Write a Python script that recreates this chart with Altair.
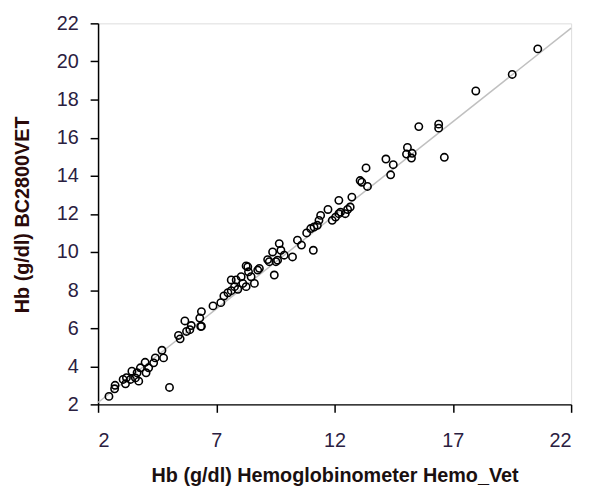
import altair as alt
import pandas as pd

# Hemoglobinometer (x) vs BC2800VET (y), g/dl
hemo_vet = [2.46, 2.70, 2.72, 3.06, 3.16, 3.20, 3.43, 3.37, 3.58, 3.72, 3.65, 3.79, 3.99, 4.03,
            4.14, 4.35, 4.42, 4.70, 4.77, 5.02, 5.40, 5.47, 5.67, 5.74, 5.88, 5.94, 6.34, 6.30,
            6.37, 6.37, 6.86, 7.19, 7.32, 7.49, 7.63, 7.77, 7.91, 7.63, 7.84, 8.05, 8.12, 8.26,
            8.33, 8.36, 8.47, 8.61, 8.75, 8.82, 8.26, 9.45, 9.24, 9.52, 9.59, 9.17, 9.38, 9.66,
            9.73, 9.87, 10.22, 10.43, 10.60, 11.10, 10.82, 10.99, 11.13, 11.27, 11.34, 11.41,
            11.72, 11.90, 12.04, 12.18, 12.25, 12.45, 12.55, 12.18, 12.73, 12.66, 13.08, 13.15,
            13.39, 13.33, 14.17, 14.48, 14.37, 15.08, 15.04, 15.28, 15.25, 15.56, 16.40, 16.40,
            16.64, 17.97, 19.51, 20.59]
bc2800vet = [2.42, 2.82, 3.00, 3.31, 3.08, 3.40, 3.74, 3.31, 3.39, 3.22, 3.66, 3.92, 4.21, 3.66,
             3.92, 4.18, 4.44, 4.84, 4.44, 2.89, 5.62, 5.44, 6.38, 5.83, 5.92, 6.14, 6.09, 6.53,
             6.87, 6.10, 7.17, 7.34, 7.69, 7.86, 7.97, 8.18, 8.04, 8.53, 8.53, 8.70, 8.35, 8.18,
             9.22, 8.96, 8.70, 8.35, 9.05, 9.14, 9.27, 8.79, 9.49, 9.49, 9.57, 9.60, 10.00, 10.44,
             10.09, 9.83, 9.74, 10.62, 10.36, 10.09, 11.00, 11.23, 11.31, 11.40, 11.66, 11.92,
             12.23, 11.66, 11.83, 12.01, 12.09, 12.01, 12.23, 12.71, 12.88, 12.36, 13.75, 13.66,
             13.44, 14.41, 14.88, 14.58, 14.05, 15.49, 15.14, 15.18, 14.93, 16.58, 16.71, 16.50,
             14.97, 18.45, 19.32, 20.66]

line_x = [2, 22]
line_y = [2.1, 21.75]

x_ticks = [2, 7, 12, 17, 22]
y_ticks = [2, 4, 6, 8, 10, 12, 14, 16, 18, 20, 22]

pts = pd.DataFrame({"x": hemo_vet, "y": bc2800vet})
ln = pd.DataFrame({"x": line_x, "y": line_y})

FONT = "Liberation Sans"
LABEL_COLOR = "#2a2040"

xscale = alt.Scale(domain=[2, 22], nice=False, zero=False)
yscale = alt.Scale(domain=[2, 22], nice=False, zero=False)

xaxis = alt.Axis(
    values=x_ticks, grid=False, domainColor="black", domainWidth=1.5,
    tickColor="black", tickWidth=1.5, tickSize=8, labelPadding=19, labelOverlap=False,
    labelFont=FONT, labelFontSize=20, labelColor=LABEL_COLOR,
    title="Hb (g/dl)  Hemoglobinometer  Hemo_Vet", titleFont=FONT, titleFontSize=20,
    titleFontWeight="bold", titleColor="#1a1010",
    titleX=239, titleY=78, titleAlign="center", titleBaseline="alphabetic",
)
yaxis = alt.Axis(
    values=y_ticks, tickCount=11, grid=False, domainColor="black", domainWidth=1.5,
    tickColor="black", tickWidth=1.5, tickSize=8, labelPadding=12, labelOverlap=False,
    labelFont=FONT, labelFontSize=20, labelColor=LABEL_COLOR, labelBound=False,
    title="Hb (g/dl)  BC2800VET", titleFont=FONT, titleFontSize=20,
    titleFontWeight="bold", titleColor="#2a0a0a",
    titleX=-76, titleY=193, titleAlign="center", titleBaseline="middle", titleAngle=-90,
)

line = alt.Chart(ln).mark_line(color="#c0c0c0", strokeWidth=1.5).encode(
    x=alt.X("x:Q", scale=xscale, axis=xaxis),
    y=alt.Y("y:Q", scale=yscale, axis=yaxis),
)

points = alt.Chart(pts).mark_point(
    shape="circle", filled=False, color="black", size=55, strokeWidth=1.6, opacity=1
).encode(
    x=alt.X("x:Q", scale=xscale, axis=xaxis),
    y=alt.Y("y:Q", scale=yscale, axis=yaxis),
)

chart = alt.layer(line, points).properties(
    width=478, height=385,
    autosize=alt.AutoSizeParams(type="none"),
    padding={"left": 91, "top": 13, "right": 12, "bottom": 85},
).configure_view(stroke=None).configure(background="white")

chart.save("out.html", embed_options={"renderer": "svg", "actions": False})
